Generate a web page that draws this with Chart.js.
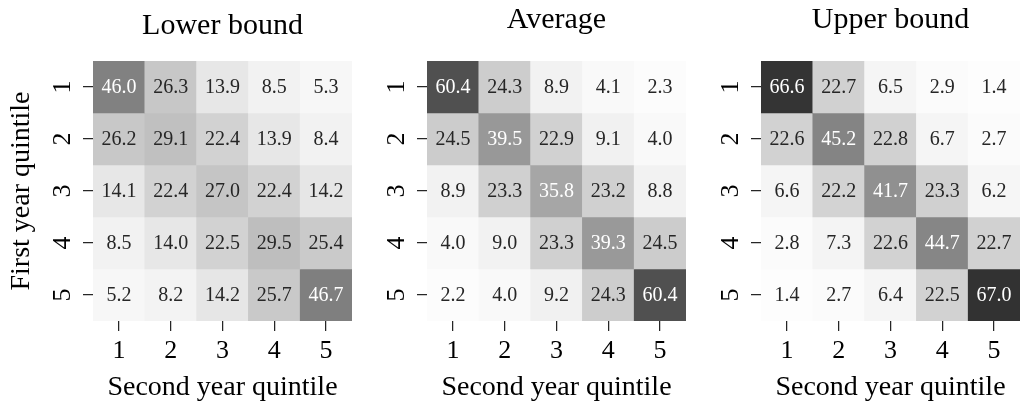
<!DOCTYPE html>
<html>
<head>
<meta charset="utf-8">
<script src="https://cdn.jsdelivr.net/npm/chart.js@4.4.1/dist/chart.umd.min.js"></script>
<style>
  html, body { margin: 0; padding: 0; background: #fff; }
  body { width: 1020px; height: 407px; position: relative; overflow: hidden; }
  canvas { position: absolute; top: 0; }
</style>
</head>
<body>
<canvas id="panel-0" width="352" height="407" style="left:0px"></canvas>
<canvas id="panel-1" width="352" height="407" style="left:334px"></canvas>
<canvas id="panel-2" width="352" height="407" style="left:668px"></canvas>
<script>
(function () {
  'use strict';

  // rows = first year quintile, columns = second year quintile
  const quintiles = ['1', '2', '3', '4', '5'];
  const panelTitles = ['Lower bound', 'Average', 'Upper bound'];
  const xTitle = 'Second year quintile';
  const yTitle = 'First year quintile';

  const lowerBound = [
    [46.0, 26.3, 13.9, 8.5, 5.3],
    [26.2, 29.1, 22.4, 13.9, 8.4],
    [14.1, 22.4, 27.0, 22.4, 14.2],
    [8.5, 14.0, 22.5, 29.5, 25.4],
    [5.2, 8.2, 14.2, 25.7, 46.7],
  ];
  const average = [
    [60.4, 24.3, 8.9, 4.1, 2.3],
    [24.5, 39.5, 22.9, 9.1, 4.0],
    [8.9, 23.3, 35.8, 23.2, 8.8],
    [4.0, 9.0, 23.3, 39.3, 24.5],
    [2.2, 4.0, 9.2, 24.3, 60.4],
  ];
  const upperBound = [
    [66.6, 22.7, 6.5, 2.9, 1.4],
    [22.6, 45.2, 22.8, 6.7, 2.7],
    [6.6, 22.2, 41.7, 23.3, 6.2],
    [2.8, 7.3, 22.6, 44.7, 22.7],
    [1.4, 2.7, 6.4, 22.5, 67.0],
  ];
  const panels = [lowerBound, average, upperBound];

  const FONT = '"Liberation Serif", "Times New Roman", serif';
  const VMAX = 80;
  // matplotlib "Greys" anchors
  const GREYS = [255, 240, 217, 189, 150, 115, 82, 37, 0];

  function grey(v) {
    const t = Math.max(0, Math.min(1, v / VMAX)) * (GREYS.length - 1);
    const i = Math.min(GREYS.length - 2, Math.floor(t));
    const g = Math.round(GREYS[i] + (GREYS[i + 1] - GREYS[i]) * (t - i));
    return g;
  }
  const fill = (v) => { const g = grey(v); return `rgb(${g},${g},${g})`; };
  // seaborn picks light/dark annotation text from the cell luminance
  function textColor(v) {
    const c = grey(v) / 255;
    const lin = c <= 0.03928 ? c / 12.92 : Math.pow((c + 0.055) / 1.055, 2.4);
    return lin > 0.408 ? '#262626' : '#ffffff';
  }

  const cellLabels = {
    id: 'cellLabels',
    afterDatasetsDraw(chart) {
      const { ctx } = chart;
      ctx.save();
      ctx.font = `20px ${FONT}`;
      ctx.textAlign = 'center';
      ctx.textBaseline = 'middle';
      chart.data.datasets.forEach((ds, i) => {
        chart.getDatasetMeta(i).data.forEach((bar, j) => {
          const v = ds.values[j];
          const p = bar.getCenterPoint();
          ctx.fillStyle = textColor(v);
          ctx.fillText(v.toFixed(1), p.x, p.y + 1);
        });
      });
      ctx.restore();
    },
  };

  const tickGrid = { drawOnChartArea: false, offset: false, tickLength: 10, color: '#262626', lineWidth: 1.25 };

  panels.forEach((rows, k) => {
    const datasets = rows.map((row, r) => ({
      values: row,
      data: row.map(() => [r + 0.5, r + 1.5]),
      backgroundColor: row.map(fill),
      borderWidth: 0,
      grouped: false,
      categoryPercentage: 1,
      barPercentage: 1,
    }));

    new Chart(document.getElementById(`panel-${k}`), {
      type: 'bar',
      data: { labels: quintiles, datasets },
      options: {
        responsive: false,
        animation: false,
        devicePixelRatio: 1,
        layout: { padding: 0 },
        events: [],
        plugins: {
          legend: { display: false },
          tooltip: { enabled: false },
          title: {
            display: true,
            text: panelTitles[k],
            fullSize: false,
            color: '#000',
            font: { family: FONT, size: 30, weight: 'normal' },
            padding: k === 0 ? { top: 8, bottom: 17 } : { top: 2, bottom: 23 },
          },
        },
        scales: {
          x: {
            grid: tickGrid,
            border: { display: false },
            ticks: { color: '#000', font: { family: FONT, size: 26 }, padding: 5 },
            title: {
              display: true, text: xTitle, color: '#000',
              font: { family: FONT, size: 28 }, padding: { top: 0, bottom: 3 },
            },
            afterFit: (s) => { s.height = 86; },
          },
          y: {
            type: 'linear',
            min: 0.5,
            max: 5.5,
            reverse: true,
            grid: tickGrid,
            border: { display: false },
            afterBuildTicks: (s) => { s.ticks = quintiles.map((q, i) => ({ value: i + 1 })); },
            ticks: {
              callback: (v, i) => quintiles[i],
              color: '#000',
              font: { family: FONT, size: 26 },
              minRotation: 90,
              maxRotation: 90,
              crossAlign: 'center',
              padding: 13,
            },
            title: {
              display: k === 0, text: yTitle, color: '#000',
              font: { family: FONT, size: 28 }, padding: { top: 5, bottom: 0 },
            },
            afterFit: (s) => { s.width = 93; },
          },
        },
      },
      plugins: [cellLabels],
    });
  });
})();
</script>
</body>
</html>
